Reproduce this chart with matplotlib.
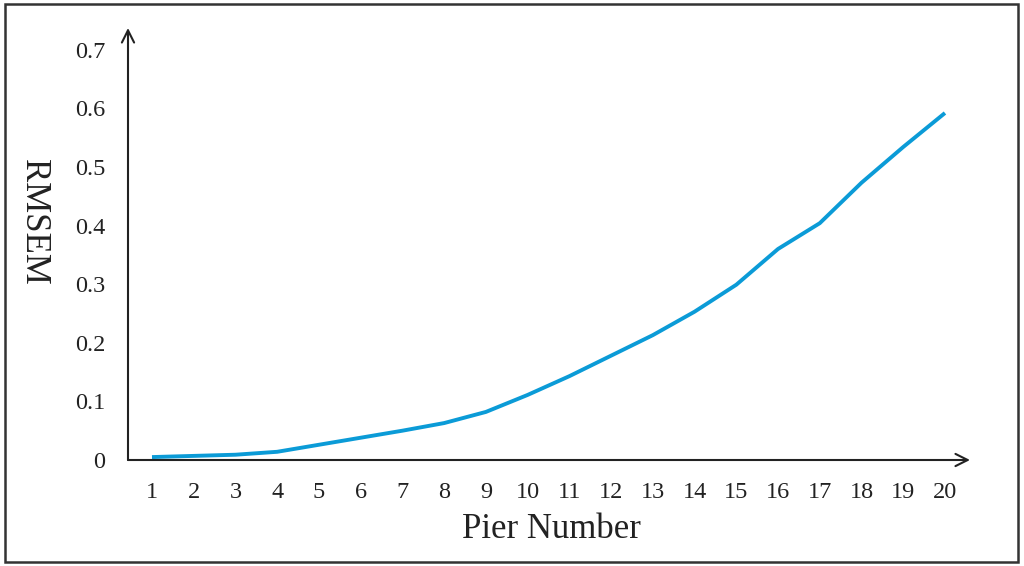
import matplotlib
matplotlib.use("Agg")
import matplotlib.pyplot as plt
from matplotlib.patches import Rectangle

pier = list(range(1, 21))
rmsem = [0.005, 0.007, 0.009, 0.014, 0.026, 0.038, 0.050, 0.063, 0.082, 0.111,
         0.143, 0.178, 0.213, 0.253, 0.299, 0.360, 0.404, 0.473, 0.534, 0.592]
y_ticks = [0, 0.1, 0.2, 0.3, 0.4, 0.5, 0.6, 0.7]
y_tick_labels = ["0", "0.1", "0.2", "0.3", "0.4", "0.5", "0.6", "0.7"]

W, H = 1024, 566
fig = plt.figure(figsize=(W / 100, H / 100), dpi=100)
plt.rcParams['font.family'] = ['Liberation Serif', 'DejaVu Serif']

# frame around figure
fig.patches.append(Rectangle((5 / W, 4 / H), 1013 / W, 558 / H, transform=fig.transFigure,
                             fill=False, edgecolor='#333333', linewidth=1.8))

ax = fig.add_axes([128 / W, (H - 460) / H, (970 - 128) / W, (460 - 28) / H])
ax.set_xlim(0.425, 20.6)
ax.set_ylim(0, 0.737)
for s in ax.spines.values():
    s.set_visible(False)

ax.plot(pier, rmsem, color='#0b9bd7', linewidth=2.8, solid_capstyle='butt',
        solid_joinstyle='round')

# axis arrows
ax.annotate('', xy=(1.0, 0), xytext=(0, 0), xycoords='axes fraction',
            arrowprops=dict(arrowstyle='->', color='#222222', lw=1.5, mutation_scale=22,
                            shrinkA=0, shrinkB=0))
ax.annotate('', xy=(0, 1.0), xytext=(0, 0), xycoords='axes fraction',
            arrowprops=dict(arrowstyle='->', color='#222222', lw=1.5, mutation_scale=22,
                            shrinkA=0, shrinkB=0))

ax.set_xticks(pier)
ax.set_xticklabels([str(p) for p in pier], fontsize=17.5, color='#222222')
ax.set_yticks(y_ticks)
ax.set_yticklabels(y_tick_labels, fontsize=17.5, color='#222222')
ax.tick_params(axis='both', length=0)
ax.tick_params(axis='x', pad=15.5)
ax.tick_params(axis='y', pad=16.5)

ax.set_xlabel('Pier Number', fontsize=25, color='#222222', va='baseline', ha='center')
ax.xaxis.set_label_coords(0.5024, -0.1806)
ax.set_ylabel('RMSEM', fontsize=25, color='#222222', rotation=270, va='center', ha='center')
ax.yaxis.set_label_coords(-0.1128, 0.551)

fig.savefig('out.png', dpi=100)
